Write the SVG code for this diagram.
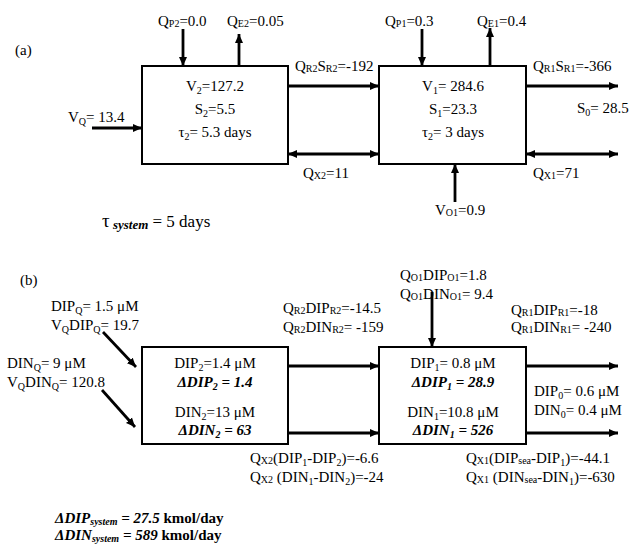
<svg xmlns="http://www.w3.org/2000/svg" width="630" height="547" viewBox="0 0 630 547">
<style>
text{font-family:"Liberation Serif","Times New Roman",serif;font-size:15px;fill:#000}
.s{font-size:10px}
.m{text-anchor:middle}
.bi{font-weight:bold;font-style:italic}
.b{font-weight:bold}
.box{fill:#fff;stroke:#000;stroke-width:2}
.ar{stroke:#000;stroke-width:2.8;fill:none;marker-end:url(#ah)}
.dar{stroke:#000;stroke-width:2.8;fill:none;marker-end:url(#ah);marker-start:url(#ahs)}
</style>
<defs>
<marker id="ah" markerUnits="userSpaceOnUse" markerWidth="10" markerHeight="10" viewBox="0 0 10 10" refX="9" refY="5" orient="auto">
<path d="M0,1 L9,5 L0,9 Z" fill="#000"/>
</marker>
<marker id="ahs" markerUnits="userSpaceOnUse" markerWidth="10" markerHeight="10" viewBox="0 0 10 10" refX="1" refY="5" orient="auto">
<path d="M10,1 L1,5 L10,9 Z" fill="#000"/>
</marker>
</defs>

<text x="15" y="55">(a)</text>
<text x="20" y="285">(b)</text>

<g id="connectors">
<!-- (a) -->
<line class="ar" x1="183" y1="29" x2="183" y2="66"/>
<line class="ar" x1="239" y1="66" x2="239" y2="34"/>
<line class="ar" x1="92" y1="128" x2="142" y2="128"/>
<line class="ar" x1="288" y1="86" x2="379" y2="86"/>
<line class="dar" x1="288" y1="154" x2="379" y2="154"/>
<line class="ar" x1="422" y1="29" x2="422" y2="66"/>
<line class="ar" x1="490" y1="66" x2="490" y2="28"/>
<line class="ar" x1="526" y1="86" x2="618" y2="86"/>
<line class="dar" x1="526" y1="154" x2="618" y2="154"/>
<line class="ar" x1="455" y1="202" x2="455" y2="164"/>
<!-- (b) -->
<line class="ar" x1="103" y1="332" x2="136" y2="367"/>
<line class="ar" x1="102" y1="390" x2="135" y2="427"/>
<line class="ar" x1="288" y1="366" x2="379" y2="366"/>
<line class="ar" x1="288" y1="433" x2="379" y2="433"/>
<line class="ar" x1="432" y1="292" x2="432" y2="347"/>
<line class="ar" x1="526" y1="366" x2="618" y2="366"/>
<line class="ar" x1="526" y1="433" x2="618" y2="433"/>
</g>

<g id="a-box2">
<rect class="box" x="142" y="66" width="146" height="98"/>
<text class="m" x="215" y="91">V<tspan class="s" dy="3">2</tspan><tspan dy="-3">=127.2</tspan></text>
<text class="m" x="215" y="114">S<tspan class="s" dy="3">2</tspan><tspan dy="-3">=5.5</tspan></text>
<text class="m" x="215" y="137">τ<tspan class="s" dy="3">2</tspan><tspan dy="-3">= 5.3 days</tspan></text>
</g>

<g id="a-box1">
<rect class="box" x="379" y="66" width="147" height="98"/>
<text class="m" x="453" y="91">V<tspan class="s" dy="3">1</tspan><tspan dy="-3">= 284.6</tspan></text>
<text class="m" x="453" y="114">S<tspan class="s" dy="3">1</tspan><tspan dy="-3">=23.3</tspan></text>
<text class="m" x="453" y="137">τ<tspan class="s" dy="3">2</tspan><tspan dy="-3">= 3 days</tspan></text>
</g>

<g id="a-labels">
<text x="158" y="26">Q<tspan class="s" dy="1">P2</tspan><tspan dy="-1">=0.0</tspan></text>
<text x="227" y="26">Q<tspan class="s" dy="1">E2</tspan><tspan dy="-1">=0.05</tspan></text>
<text x="68" y="122">V<tspan class="s" dy="3">Q</tspan><tspan dy="-3">= 13.4</tspan></text>
<text x="295" y="71">Q<tspan class="s" dy="1">R2</tspan><tspan dy="-1">S</tspan><tspan class="s" dy="1">R2</tspan><tspan dy="-1">=-192</tspan></text>
<text x="303" y="178">Q<tspan class="s" dy="1">X2</tspan><tspan dy="-1">=11</tspan></text>
<text x="385" y="26">Q<tspan class="s" dy="1">P1</tspan><tspan dy="-1">=0.3</tspan></text>
<text x="477" y="26">Q<tspan class="s" dy="1">E1</tspan><tspan dy="-1">=0.4</tspan></text>
<text x="533" y="71">Q<tspan class="s" dy="1">R1</tspan><tspan dy="-1">S</tspan><tspan class="s" dy="1">R1</tspan><tspan dy="-1">=-366</tspan></text>
<text x="577" y="113">S<tspan class="s" dy="3">0</tspan><tspan dy="-3">= 28.5</tspan></text>
<text x="533" y="178">Q<tspan class="s" dy="1">X1</tspan><tspan dy="-1">=71</tspan></text>
<text x="435" y="215">V<tspan class="s" dy="1">O1</tspan><tspan dy="-1">=0.9</tspan></text>
<text x="102" y="227" style="font-size:19px">τ<tspan class="bi" style="font-size:13px" dy="2"> system</tspan><tspan dy="-2" style="font-size:17px"> = 5 days</tspan></text>
</g>

<g id="b-box2">
<rect class="box" x="142" y="347" width="146" height="97"/>
<text class="m" x="215" y="368">DIP<tspan class="s" dy="3">2</tspan><tspan dy="-3">=1.4 μM</tspan></text>
<text class="m bi" x="215" y="387">ΔDIP<tspan class="s" dy="3">2</tspan><tspan dy="-3"> = 1.4</tspan></text>
<text class="m" x="215" y="417">DIN<tspan class="s" dy="3">2</tspan><tspan dy="-3">=13 μM</tspan></text>
<text class="m bi" x="215" y="435">ΔDIN<tspan class="s" dy="3">2</tspan><tspan dy="-3"> = 63</tspan></text>
</g>

<g id="b-box1">
<rect class="box" x="379" y="347" width="147" height="97"/>
<text class="m" x="453" y="368">DIP<tspan class="s" dy="3">1</tspan><tspan dy="-3">= 0.8 μM</tspan></text>
<text class="m bi" x="453" y="387">ΔDIP<tspan class="s" dy="3">1</tspan><tspan dy="-3"> = 28.9</tspan></text>
<text class="m" x="453" y="417">DIN<tspan class="s" dy="3">1</tspan><tspan dy="-3">=10.8 μM</tspan></text>
<text class="m bi" x="453" y="435">ΔDIN<tspan class="s" dy="3">1</tspan><tspan dy="-3"> = 526</tspan></text>
</g>

<g id="b-labels">
<text x="51" y="311">DIP<tspan class="s" dy="3">Q</tspan><tspan dy="-3">= 1.5 μM</tspan></text>
<text x="51" y="330">V<tspan class="s" dy="3">Q</tspan><tspan dy="-3">DIP</tspan><tspan class="s" dy="3">Q</tspan><tspan dy="-3">= 19.7</tspan></text>
<text x="7" y="368">DIN<tspan class="s" dy="3">Q</tspan><tspan dy="-3">= 9 μM</tspan></text>
<text x="7" y="387">V<tspan class="s" dy="3">Q</tspan><tspan dy="-3">DIN</tspan><tspan class="s" dy="3">Q</tspan><tspan dy="-3">= 120.8</tspan></text>
<text x="283" y="313">Q<tspan class="s" dy="1">R2</tspan><tspan dy="-1">DIP</tspan><tspan class="s" dy="1">R2</tspan><tspan dy="-1">=-14.5</tspan></text>
<text x="283" y="332">Q<tspan class="s" dy="1">R2</tspan><tspan dy="-1">DIN</tspan><tspan class="s" dy="1">R2</tspan><tspan dy="-1">= -159</tspan></text>
<text x="250" y="463">Q<tspan class="s" dy="1">X2</tspan><tspan dy="-1">(DIP</tspan><tspan class="s" dy="3">1</tspan><tspan dy="-3">-DIP</tspan><tspan class="s" dy="3">2</tspan><tspan dy="-3">)=-6.6</tspan></text>
<text x="250" y="482">Q<tspan class="s" dy="1">X2</tspan><tspan dy="-1"> (DIN</tspan><tspan class="s" dy="3">1</tspan><tspan dy="-3">-DIN</tspan><tspan class="s" dy="3">2</tspan><tspan dy="-3">)=-24</tspan></text>
<text x="400" y="280">Q<tspan class="s" dy="1">O1</tspan><tspan dy="-1">DIP</tspan><tspan class="s" dy="1">O1</tspan><tspan dy="-1">=1.8</tspan></text>
<text x="400" y="299">Q<tspan class="s" dy="1">O1</tspan><tspan dy="-1">DIN</tspan><tspan class="s" dy="1">O1</tspan><tspan dy="-1">= 9.4</tspan></text>
<text x="511" y="315">Q<tspan class="s" dy="1">R1</tspan><tspan dy="-1">DIP</tspan><tspan class="s" dy="1">R1</tspan><tspan dy="-1">=-18</tspan></text>
<text x="511" y="332">Q<tspan class="s" dy="1">R1</tspan><tspan dy="-1">DIN</tspan><tspan class="s" dy="1">R1</tspan><tspan dy="-1">= -240</tspan></text>
<text x="534" y="396">DIP<tspan class="s" dy="3">0</tspan><tspan dy="-3">= 0.6 μM</tspan></text>
<text x="534" y="415">DIN<tspan class="s" dy="3">0</tspan><tspan dy="-3">= 0.4 μM</tspan></text>
<text x="466" y="463">Q<tspan class="s" dy="1">X1</tspan><tspan dy="-1">(DIP</tspan><tspan class="s" dy="1">sea</tspan><tspan dy="-1">-DIP</tspan><tspan class="s" dy="3">1</tspan><tspan dy="-3">)=-44.1</tspan></text>
<text x="466" y="482">Q<tspan class="s" dy="1">X1</tspan><tspan dy="-1"> (DIN</tspan><tspan class="s" dy="1">sea</tspan><tspan dy="-1">-DIN</tspan><tspan class="s" dy="3">1</tspan><tspan dy="-3">)=-630</tspan></text>
<text x="55" y="523" style="font-size:15px"><tspan class="bi">ΔDIP</tspan><tspan class="bi" style="font-size:10px" dy="2">system</tspan><tspan class="bi" dy="-2"> = 27.5</tspan><tspan class="b"> kmol/day</tspan></text>
<text x="55" y="540" style="font-size:15px"><tspan class="bi">ΔDIN</tspan><tspan class="bi" style="font-size:10px" dy="2">system</tspan><tspan class="bi" dy="-2"> = 589</tspan><tspan class="b"> kmol/day</tspan></text>
</g>
</svg>
